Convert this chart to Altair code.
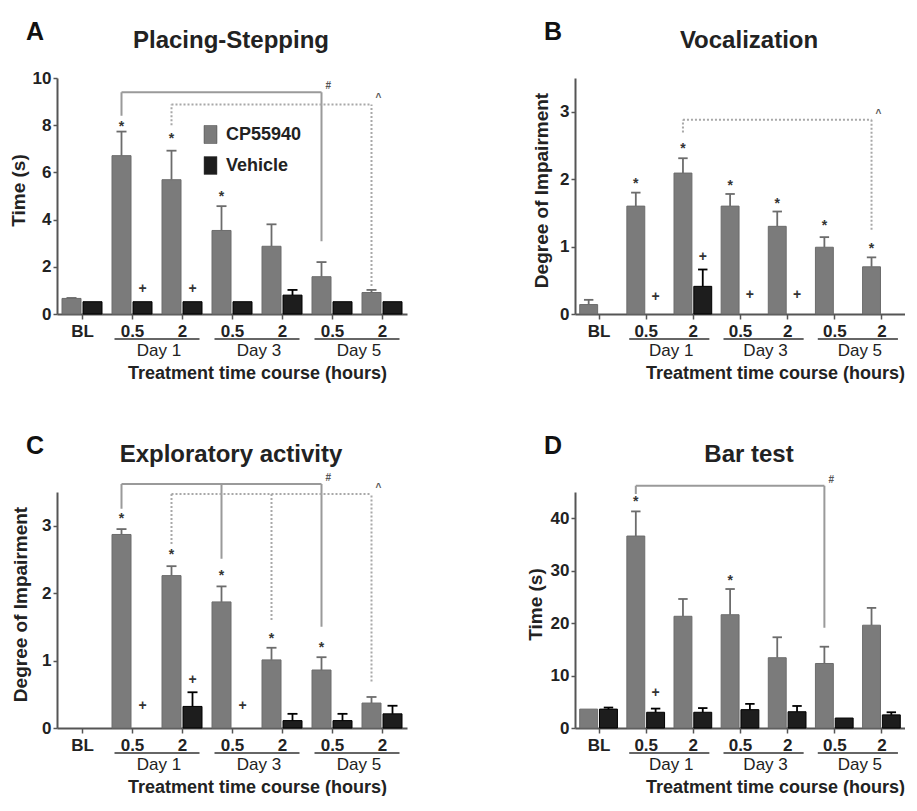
import json
import altair as alt
import pandas as pd

# ---------------- data ----------------
TICK_LABELS = ["BL", "0.5", "2", "0.5", "2", "0.5", "2"]
DAY_LABELS = ["Day 1", "Day 3", "Day 5"]
DAY_CENTERS = [1.5, 3.5, 5.5]
SERIES = ["CP55940", "Vehicle"]

# Panel A - Placing-Stepping (Time, s)
a_cp_mean = [0.66, 6.71, 5.69, 3.54, 2.87, 1.58, 0.91]
a_cp_top = [0.68, 7.73, 6.92, 4.57, 3.80, 2.20, 1.02]
a_veh_mean = [0.52, 0.52, 0.52, 0.52, 0.80, 0.52, 0.52]
a_veh_top = [0.52, 0.52, 0.52, 0.52, 1.02, 0.52, 0.52]
a_cp_sig = [None, 8.1, 7.6, 5.13, None, None, None]
a_veh_sig = [None, 1.05, 1.05, None, None, None, None]
a_brackets = [
    {"kind": "solid", "top": 9.4, "legs": [[1, 8.4], [5, 3.08]], "sym": "#"},
    {"kind": "dotted", "top": 8.88, "legs": [[2, 8.0], [6, 1.19]], "sym": "^"},
]

# Panel B - Vocalization (degree of impairment)
b_cp_mean = [0.14, 1.60, 2.09, 1.60, 1.30, 0.99, 0.70]
b_cp_top = [0.21, 1.80, 2.31, 1.78, 1.52, 1.14, 0.84]
b_veh_mean = [0, 0, 0.41, 0, 0, 0, 0]
b_veh_top = [0, 0, 0.66, 0, 0, 0, 0]
b_cp_sig = [None, 1.99, 2.50, 1.96, 1.69, 1.37, 1.03]
b_veh_sig = [None, 0.25, 0.84, 0.28, 0.28, None, None]
b_brackets = [
    {"kind": "dotted", "top": 2.88, "legs": [[2, 2.69], [6, 1.25]], "sym": "^"},
]

# Panel C - Exploratory activity (degree of impairment)
c_cp_mean = [0, 2.87, 2.26, 1.87, 1.01, 0.86, 0.37]
c_cp_top = [0, 2.95, 2.40, 2.10, 1.19, 1.05, 0.46]
c_veh_mean = [0, 0, 0.32, 0, 0.11, 0.11, 0.21]
c_veh_top = [0, 0, 0.53, 0, 0.21, 0.21, 0.33]
c_cp_sig = [None, 3.16, 2.62, 2.31, 1.38, 1.24, None]
c_veh_sig = [None, 0.32, 0.71, 0.32, None, None, None]
c_brackets = [
    {"kind": "solid", "top": 3.62, "legs": [[1, 3.25], [3, 2.51], [5, 1.5]], "sym": "#"},
    {"kind": "dotted", "top": 3.47, "legs": [[2, 2.73], [4, 1.6], [6, 0.69]], "sym": "^"},
]

# Panel D - Bar test (Time, s)
d_cp_mean = [3.6, 36.6, 21.3, 21.6, 13.4, 12.3, 19.6]
d_cp_top = [3.6, 41.3, 24.6, 26.5, 17.3, 15.5, 22.9]
d_veh_mean = [3.6, 3.0, 3.0, 3.5, 3.1, 1.9, 2.5]
d_veh_top = [3.9, 3.7, 3.8, 4.6, 4.2, 1.9, 3.0]
d_cp_sig = [None, 43.8, None, 28.8, None, None, None]
d_veh_sig = [None, 6.6, None, None, None, None, None]
d_brackets = [
    {"kind": "solid", "top": 46.2, "legs": [[1, 44.6], [5, 19.1]], "sym": "#"},
]

# ---------------- style ----------------
FONT = "Liberation Sans"
GREY = "#7b7b7b"
BLACK = "#1d1d1d"
AXIS_C = "#555555"
TEXT_C = "#222222"
H = 236
XTITLE = "Treatment time course (hours)"


def panel(letter, title, ytitle, ymax, yvalues, cp_mean, cp_top, veh_mean, veh_top,
          cp_sig, veh_sig, brackets, width, ytitle_x, legend):
    rows = []
    for i in range(len(TICK_LABELS)):
        rows.append(dict(idx=i, series=SERIES[0], mean=cp_mean[i], top=cp_top[i], sig=cp_sig[i]))
        rows.append(dict(idx=i, series=SERIES[1], mean=veh_mean[i], top=veh_top[i], sig=veh_sig[i]))
    df = pd.DataFrame(rows)

    xs = alt.Scale(domain=[-0.5, 6.5], nice=False, zero=False)
    ys = alt.Scale(domain=[0, ymax], nice=False)
    label_expr = json.dumps(TICK_LABELS) + "[datum.value]"
    xaxis = alt.Axis(values=list(range(len(TICK_LABELS))), labelExpr=label_expr, title=XTITLE,
                     grid=False, domainColor=AXIS_C, domainWidth=2, tickColor=AXIS_C, tickWidth=1.5,
                     tickSize=5, labelPadding=4, labelFontSize=17, labelFontWeight="bold",
                     labelColor=TEXT_C, labelFont=FONT, labelFlush=False,
                     titleFontSize=18, titleFontWeight="bold", titleColor=TEXT_C, titleFont=FONT,
                     titleX=200, titleY=64, titleBaseline="alphabetic")
    yaxis = alt.Axis(values=yvalues, title=ytitle, grid=False, domainColor=AXIS_C, domainWidth=2,
                     tickColor=AXIS_C, tickWidth=1.5, tickSize=4, labelPadding=2,
                     labelFontSize=17, labelFontWeight="bold", labelColor=TEXT_C, labelFont=FONT,
                     titleFontSize=19, titleFontWeight="bold", titleColor=TEXT_C, titleFont=FONT,
                     titleX=ytitle_x, titleY=112, titleBaseline="alphabetic", titleAngle=270)

    def X(f):
        return alt.X(f, scale=xs, axis=xaxis)

    def Y(f):
        return alt.Y(f, scale=ys, axis=yaxis)

    base = alt.Chart(df).transform_calculate(
        x0="datum.idx + (datum.series == 'CP55940' ? -0.40 : 0.02)"
    ).transform_calculate(
        x1="datum.x0 + 0.38", xc="datum.x0 + 0.19", c0="datum.x0 + 0.09", c1="datum.x0 + 0.29"
    )
    stroke_c = alt.condition("datum.series == 'Vehicle'", alt.value("#000000"), alt.value("#6c6c6c"))

    if legend:
        leg = alt.Legend(orient="none", legendX=144, legendY=47, title=None, padding=0,
                         labelFontSize=18, labelFontWeight="bold", labelFont=FONT, labelColor=TEXT_C,
                         symbolType="M-0.72,-1H0.72V1H-0.72Z", symbolSize=324, symbolStrokeWidth=0.5,
                         symbolStrokeColor="#444444", rowPadding=10, labelOffset=6)
    else:
        leg = None

    bars = base.transform_filter("datum.mean > 0").mark_bar(strokeWidth=1).encode(
        x=X("x0:Q"),
        x2="x1:Q",
        y=Y("mean:Q"),
        y2=alt.datum(0),
        color=alt.Color("series:N", scale=alt.Scale(domain=SERIES, range=[GREY, BLACK]), legend=leg),
        stroke=stroke_c,
    )
    errs = base.transform_filter("datum.top > datum.mean")
    err_line = errs.mark_rule(strokeWidth=1.8).encode(
        x=X("xc:Q"), y=Y("mean:Q"), y2="top:Q", color=stroke_c)
    err_cap = errs.mark_rule(strokeWidth=1.8).encode(
        x=X("c0:Q"), x2="c1:Q", y=Y("top:Q"), color=stroke_c)
    sig = base.transform_filter("isValid(datum.sig)")
    stars = sig.transform_filter("datum.series == 'CP55940'").mark_text(
        text="*", fontSize=14, fontWeight="bold", font=FONT, color="#333333", baseline="alphabetic", dy=8
    ).encode(x=X("xc:Q"), y=Y("sig:Q"))
    plus = sig.transform_filter("datum.series == 'Vehicle'").mark_text(
        text="+", fontSize=14, fontWeight="bold", font=FONT, color="#333333", baseline="alphabetic", dy=4
    ).encode(x=X("xc:Q"), y=Y("sig:Q"))

    # significance brackets
    legs, hlines, syms = [], [], []
    for b in brackets:
        idxs = [l[0] for l in b["legs"]]
        for g, bottom in b["legs"]:
            legs.append(dict(kind=b["kind"], g=g, bottom=bottom, top=b["top"]))
        hlines.append(dict(kind=b["kind"], ga=min(idxs), gb=max(idxs), top=b["top"]))
        syms.append(dict(kind=b["kind"], g=max(idxs), top=b["top"], sym=b["sym"]))
    legs_df, hl_df, sym_df = pd.DataFrame(legs), pd.DataFrame(hlines), pd.DataFrame(syms)

    bracket_layers = []
    for kind, col, dash in [("solid", "#9a9a9a", [1, 0]), ("dotted", "#a8a8a8", [2, 2])]:
        if kind not in set(legs_df["kind"]):
            continue
        lg = alt.Chart(legs_df).transform_filter(f"datum.kind == '{kind}'").transform_calculate(
            x="datum.g - 0.21").mark_rule(color=col, strokeWidth=2, strokeDash=dash).encode(
            x=X("x:Q"), y=Y("bottom:Q"), y2="top:Q")
        hl = alt.Chart(hl_df).transform_filter(f"datum.kind == '{kind}'").transform_calculate(
            xa="datum.ga - 0.21", xb="datum.gb - 0.21").mark_rule(
            color=col, strokeWidth=2, strokeDash=dash).encode(
            x=X("xa:Q"), x2="xb:Q", y=Y("top:Q"))
        bracket_layers += [lg, hl]
    sy = alt.Chart(sym_df).transform_calculate(x="datum.g - 0.21").mark_text(
        fontSize=10, fontWeight="bold", font=FONT, color="#555555", baseline="alphabetic",
        align="left", dx=4, dy=-3).encode(x=X("x:Q"), y=Y("top:Q"), text="sym:N")
    bracket_layers.append(sy)

    # day grouping labels under the axis
    days_df = pd.DataFrame({"day": DAY_LABELS, "c": DAY_CENTERS})
    day_rule = alt.Chart(days_df).transform_calculate(
        xa="datum.c - 0.85", xb="datum.c + 0.85").mark_rule(color="#333333", strokeWidth=1.5).encode(
        x=X("xa:Q"), x2="xb:Q", y=alt.value(H + 25))
    day_text = alt.Chart(days_df).mark_text(
        fontSize=17, font=FONT, color=TEXT_C, baseline="alphabetic", dx=2).encode(
        x=X("c:Q"), y=alt.value(H + 42), text="day:N")

    # panel title and letter
    ttl = alt.Chart(pd.DataFrame({"t": [title]})).mark_text(
        fontSize=24, fontWeight="bold", font=FONT, color=TEXT_C, baseline="alphabetic").encode(
        x=alt.value(174), y=alt.value(-30), text="t:N")
    let = alt.Chart(pd.DataFrame({"t": [letter]})).mark_text(
        fontSize=25, fontWeight="bold", font=FONT, color="#111111", baseline="alphabetic").encode(
        x=alt.value(-22), y=alt.value(-38), text="t:N")

    layers = [bars, err_line, err_cap, stars, plus] + bracket_layers + [day_rule, day_text, ttl, let]
    return alt.layer(*layers).properties(width=width, height=H).resolve_scale(color="independent")


pa = panel("A", "Placing-Stepping", "Time (s)", 10, [0, 2, 4, 6, 8, 10],
           a_cp_mean, a_cp_top, a_veh_mean, a_veh_top, a_cp_sig, a_veh_sig, a_brackets, 350, -33, True)
pb = panel("B", "Vocalization", "Degree of Impairment", 3.5, [0, 1, 2, 3],
           b_cp_mean, b_cp_top, b_veh_mean, b_veh_top, b_cp_sig, b_veh_sig, b_brackets, 330, -28, False)
pc = panel("C", "Exploratory activity", "Degree of Impairment", 3.5, [0, 1, 2, 3],
           c_cp_mean, c_cp_top, c_veh_mean, c_veh_top, c_cp_sig, c_veh_sig, c_brackets, 350, -31, False)
pd_ = panel("D", "Bar test", "Time (s)", 45, [0, 10, 20, 30, 40],
            d_cp_mean, d_cp_top, d_veh_mean, d_veh_top, d_cp_sig, d_veh_sig, d_brackets, 330, -34, False)

row1 = alt.hconcat(pa, pb, spacing=168, bounds="flush").resolve_scale(color="independent").resolve_legend(color="independent")
row2 = alt.hconcat(pc, pd_, spacing=168, bounds="flush").resolve_scale(color="independent").resolve_legend(color="independent")
chart = alt.vconcat(row1, row2, spacing=52).resolve_scale(
    color="independent").resolve_legend(color="independent").properties(
    padding={"left": 1, "top": 12, "right": 0, "bottom": 0}, background="white"
).configure(font=FONT).configure_view(stroke=None)

chart.save("out.html", embed_options={"renderer": "svg", "actions": False})
